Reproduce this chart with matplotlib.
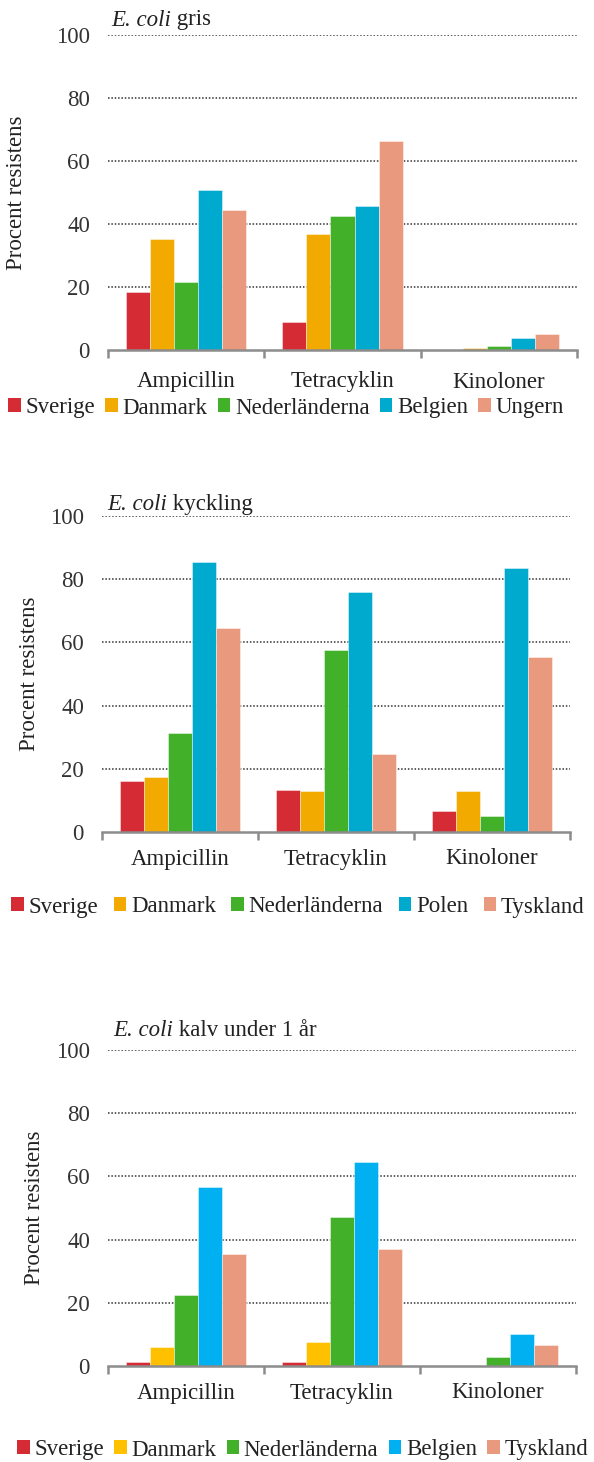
import matplotlib
matplotlib.use("Agg")
import matplotlib.pyplot as plt
from matplotlib.patches import Patch
import numpy as np

plt.rcParams['font.family'] = ['Liberation Serif', 'DejaVu Serif']

antibiotics = ["Ampicillin", "Tetracyklin", "Kinoloner"]

# Chart 1: E. coli gris
gris_countries = ["Sverige", "Danmark", "Nederländerna", "Belgien", "Ungern"]
gris_sverige = [18.3, 9.0, 0.0]
gris_danmark = [35.2, 36.8, 0.5]
gris_nederlanderna = [21.6, 42.4, 1.2]
gris_belgien = [50.8, 45.7, 3.7]
gris_ungern = [44.4, 66.2, 5.0]

# Chart 2: E. coli kyckling
kyck_countries = ["Sverige", "Danmark", "Nederländerna", "Polen", "Tyskland"]
kyck_sverige = [16.1, 13.4, 6.5]
kyck_danmark = [17.3, 13.1, 13.1]
kyck_nederlanderna = [31.4, 57.7, 5.1]
kyck_polen = [85.4, 75.9, 83.7]
kyck_tyskland = [64.6, 24.6, 55.4]

# Chart 3: E. coli kalv under 1 år
kalv_countries = ["Sverige", "Danmark", "Nederländerna", "Belgien", "Tyskland"]
kalv_sverige = [1.3, 1.3, 0.0]
kalv_danmark = [5.9, 7.6, 0.0]
kalv_nederlanderna = [22.6, 47.0, 2.7]
kalv_belgien = [56.5, 64.5, 10.1]
kalv_tyskland = [35.6, 37.0, 6.7]

yticks = [0, 20, 40, 60, 80, 100]

colors_a = ["#D52B34", "#F2A900", "#43B02A", "#00A9CE", "#E99A7E"]
colors_b = ["#D52B34", "#FFC000", "#43B02A", "#00B0F0", "#E99A7E"]

W, H = 594, 1462
fig = plt.figure(figsize=(W / 100, H / 100), dpi=100)

FS = 16.5


def make_panel(left, right, y0, y100, series, countries, colors, title_rest,
               ylabel_x, tick_y, legend_y, legend_x0, legend_x1, title_x, title_y,
               colspace):
    ax = fig.add_axes([left / W, 1 - y0 / H, (right - left) / W, (y0 - y100) / H])
    n = len(series)
    bw = 0.154
    x = np.arange(len(antibiotics))
    for j, (vals, c) in enumerate(zip(series, colors)):
        ax.bar(x + (j - (n - 1) / 2) * bw, vals, width=bw, color=c,
               edgecolor=(1, 1, 1, 0.5), linewidth=0.6, zorder=3)
    ax.set_xlim(-0.5, len(antibiotics) - 0.5)
    ax.set_ylim(0, 100)
    ax.set_yticks(yticks)
    ax.set_yticklabels([str(v) for v in yticks], fontsize=FS, color="#333333")
    for v in yticks[1:]:
        ax.axhline(v, color="#333333", linestyle=(0, (1, 1.2)), linewidth=1.1, zorder=1)
    for s in ["top", "right", "left"]:
        ax.spines[s].set_visible(False)
    ax.spines["bottom"].set_color("#8C8C8C")
    ax.spines["bottom"].set_linewidth(1.8)
    ax.spines["bottom"].set_zorder(4)
    ax.tick_params(axis="y", length=0, pad=13)
    ax.set_xticks(x)
    ax.set_xticklabels([])
    ax.tick_params(axis="x", length=0)
    ax.set_xticks(np.arange(-0.5, len(antibiotics), 1.0), minor=True)
    ax.tick_params(axis="x", which="minor", length=6, width=1.8, color="#8C8C8C",
                   direction="out")
    for i, name in enumerate(antibiotics):
        fig.text((left + (right - left) * (i + 0.5) / len(antibiotics)) / W, 1 - tick_y / H,
                 name, ha="center", va="center", fontsize=FS, color="#222222")
    fig.text(ylabel_x / W, 1 - (y0 + y100) / 2 / H, "Procent resistens", rotation=90,
             ha="center", va="center", fontsize=FS, color="#222222")
    t1 = fig.text(title_x / W, 1 - title_y / H, "E. coli", style="italic",
                  ha="left", va="center", fontsize=FS, color="#222222")
    ax.annotate(" " + title_rest, xy=(1, 0), xycoords=t1, va="bottom", ha="left",
                fontsize=FS, color="#222222", annotation_clip=False)
    handles = [Patch(facecolor=c, edgecolor="none") for c in colors]
    leg = fig.legend(handles, countries, loc="center",
                     bbox_to_anchor=((legend_x0 + legend_x1) / 2 / W, 1 - legend_y / H),
                     ncol=len(countries), frameon=False, fontsize=FS,
                     handlelength=0.55, handleheight=0.55, handletextpad=0.2,
                     columnspacing=colspace, borderaxespad=0, borderpad=0)
    for t in leg.get_texts():
        t.set_color("#222222")
    return ax


make_panel(108, 577, 350, 35,
           [gris_sverige, gris_danmark, gris_nederlanderna, gris_belgien, gris_ungern],
           gris_countries, colors_a, "gris",
           ylabel_x=17, tick_y=382, legend_y=408, legend_x0=10, legend_x1=562,
           title_x=111, title_y=20, colspace=0.45)

make_panel(102, 570, 832, 516,
           [kyck_sverige, kyck_danmark, kyck_nederlanderna, kyck_polen, kyck_tyskland],
           kyck_countries, colors_a, "kyckling",
           ylabel_x=30, tick_y=859, legend_y=907, legend_x0=8, legend_x1=588,
           title_x=107, title_y=505, colspace=0.68)

make_panel(108, 576, 1366, 1050,
           [kalv_sverige, kalv_danmark, kalv_nederlanderna, kalv_belgien, kalv_tyskland],
           kalv_countries, colors_b, "kalv under 1 år",
           ylabel_x=35, tick_y=1393, legend_y=1450, legend_x0=15, legend_x1=590,
           title_x=113, title_y=1030, colspace=0.45)

fig.savefig("out.png", dpi=100, facecolor="white")
